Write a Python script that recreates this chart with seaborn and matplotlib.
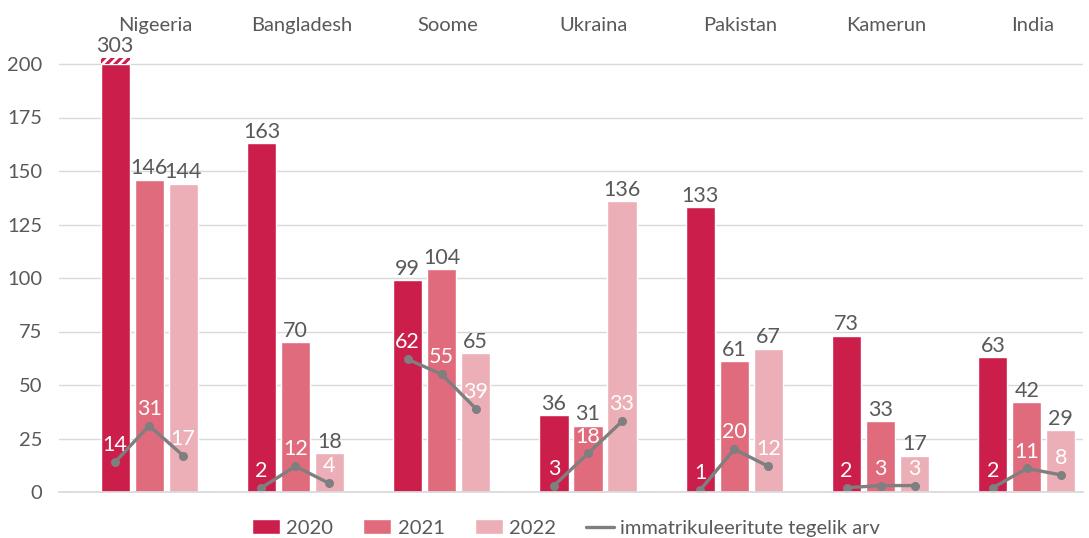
import matplotlib
matplotlib.use("Agg")
import matplotlib.pyplot as plt
import seaborn as sns
import pandas as pd
from matplotlib.patches import Patch
from matplotlib.lines import Line2D

categories = ["Nigeeria", "Bangladesh", "Soome", "Ukraina", "Pakistan", "Kamerun", "India"]
years = ["2020", "2021", "2022"]
v2020 = [303, 163, 99, 36, 133, 73, 63]
v2021 = [146, 70, 104, 31, 61, 33, 42]
v2022 = [144, 18, 65, 136, 67, 17, 29]
imm2020 = [14, 2, 62, 3, 1, 2, 2]
imm2021 = [31, 12, 55, 18, 20, 3, 11]
imm2022 = [17, 4, 39, 33, 12, 3, 8]
yticks = [0, 25, 50, 75, 100, 125, 150, 175, 200]
line_label = "immatrikuleeritute tegelik arv"

CAP = 200
colors = ["#CB1E4A", "#E06B7C", "#ECAFB7"]
txt_color = "#595959"

sns.set_theme(style="white")
plt.rcParams["font.family"] = ["Lato", "DejaVu Sans"]
plt.rcParams["hatch.linewidth"] = 2.0

# Excel layout: a hidden (empty) first series slot precedes the three visible bars
hidden = "_hidden"
rows = []
series = [v2020, v2021, v2022]
for c in categories:
    rows.append({"cat": c, "year": hidden, "plot": 0})
for yi, y in enumerate(years):
    for ci, c in enumerate(categories):
        rows.append({"cat": c, "year": y, "plot": min(series[yi][ci], CAP)})
df = pd.DataFrame(rows)

fig = plt.figure(figsize=(10.89, 5.38), dpi=100)
ax = fig.add_axes([59 / 1089, 46 / 538, (1083 - 59) / 1089, 481.5 / 538])

sns.barplot(data=df, x="cat", y="plot", hue="year", hue_order=[hidden] + years,
            order=categories, palette=[(1, 1, 1, 0)] + colors, width=0.93, gap=0.14,
            saturation=1, legend=False, ax=ax, errorbar=None)

ax.set_ylim(0, 225)
ax.set_xlim(-0.5, len(categories) - 0.5)
ax.set_yticks(yticks)
ax.set_yticklabels([str(t) for t in yticks], color=txt_color, fontsize=14.5)
ax.tick_params(axis="y", length=0, pad=12)
ax.tick_params(axis="x", length=0)
ax.set_xticklabels([])
ax.set_xlabel("")
ax.set_ylabel("")
ax.yaxis.grid(True, color="#D9D9D9", linewidth=1)
ax.set_axisbelow(True)
for s in ["left", "right", "top"]:
    ax.spines[s].set_visible(False)
ax.spines["bottom"].set_color("#D9D9D9")

# bar centres per visible hue (skip hidden container 0)
centers = {}
for hi, cont in enumerate(ax.containers[1:]):
    for ci, p in enumerate(cont.patches):
        centers[(hi, ci)] = (p.get_x() + p.get_width() / 2, p.get_width())

# value labels + cap hatch
for hi in range(3):
    for ci in range(len(categories)):
        xc, w = centers[(hi, ci)]
        val = series[hi][ci]
        top = min(val, CAP)
        if val > CAP:
            ax.bar(xc, 3, bottom=CAP, width=w, color=colors[hi], edgecolor="white",
                   hatch="////", linewidth=0)
            top = CAP + 3
        ax.annotate(str(val), (xc, top), xytext=(0, 1), textcoords="offset points",
                    ha="center", va="bottom", fontsize=15.5, color=txt_color)

# category labels at top
for ci, c in enumerate(categories):
    ax.text(centers[(1, ci)][0] + 0.04, 218, c, ha="center", va="center", fontsize=14.5,
            color=txt_color)

# immatriculated lines
imm = [imm2020, imm2021, imm2022]
for ci in range(len(categories)):
    xs = [centers[(hi, ci)][0] for hi in range(3)]
    ys = [imm[hi][ci] for hi in range(3)]
    sns.lineplot(x=xs, y=ys, ax=ax, color="#7F7F7F", linewidth=2.4, marker="o",
                 markersize=6.5, markeredgewidth=0, sort=False, estimator=None)
    for x, y in zip(xs, ys):
        ax.annotate(str(y), (x, y), xytext=(0, 5), textcoords="offset points",
                    ha="center", va="bottom", fontsize=15.5, color="white")

handles = [Patch(facecolor=colors[i], label=years[i]) for i in range(3)]
handles.append(Line2D([0], [0], color="#7F7F7F", linewidth=2.4, label=line_label))
leg = fig.legend(handles=handles, loc="center", bbox_to_anchor=(566 / 1089, 1 - 528 / 538),
                 ncol=4, frameon=False, fontsize=14.5, handlelength=1.4, handleheight=0.7,
                 columnspacing=1.5, handletextpad=0.3)
for t in leg.get_texts():
    t.set_color(txt_color)

fig.savefig("out.png", dpi=100)
